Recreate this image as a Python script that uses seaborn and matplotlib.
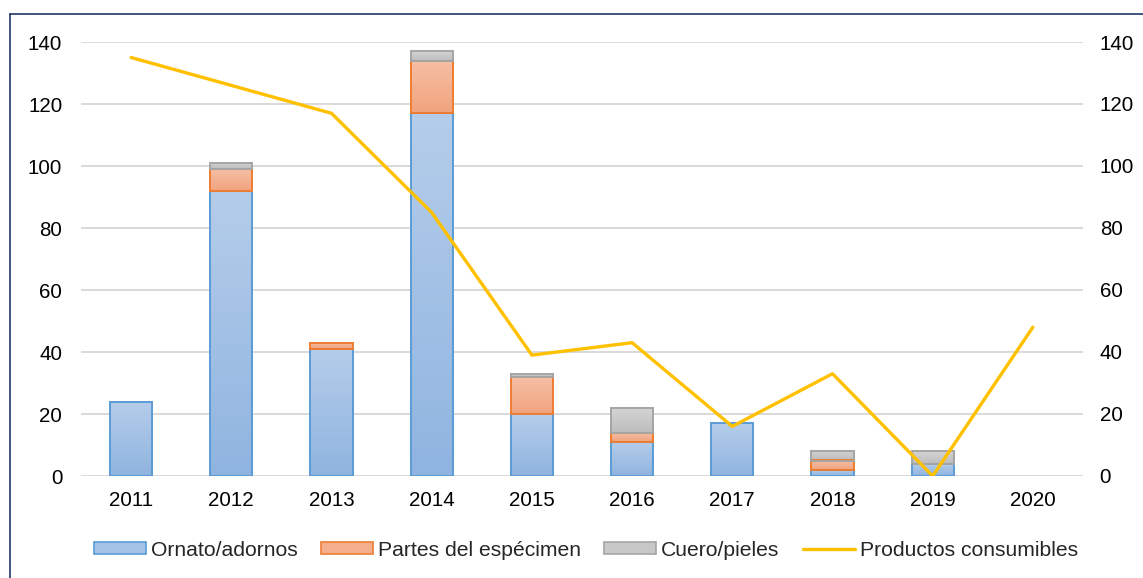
import numpy as np
import pandas as pd
import seaborn as sns
import matplotlib.pyplot as plt
from matplotlib.patches import Patch
from matplotlib.lines import Line2D
from matplotlib.colors import LinearSegmentedColormap

# Data
years = ["2011", "2012", "2013", "2014", "2015", "2016", "2017", "2018", "2019", "2020"]
ornato = [24, 92, 41, 117, 20, 11, 17, 2, 4, 0]
partes = [0, 7, 2, 17, 12, 3, 0, 3, 0, 0]
cuero = [0, 2, 0, 3, 1, 8, 0, 3, 4, 0]
consumibles = [135, 126, 117, 85, 39, 43, 16, 33, 0, 48]

labels = ["Ornato/adornos", "Partes del espécimen", "Cuero/pieles", "Productos consumibles"]

df = pd.DataFrame({"year": years, "ornato": ornato, "partes": partes,
                   "cuero": cuero, "consumibles": consumibles})
df["base_cuero"] = df["ornato"] + df["partes"]

sns.set_style("white")
plt.rcParams["font.family"] = ["Liberation Sans", "DejaVu Sans"]
FS = 14.8

fig = plt.figure(figsize=(11.43, 5.78), dpi=100)
ax = fig.add_axes([81 / 1143, 1 - 476 / 578, 1002 / 1143, 434 / 578])

# (edge, top of gradient, bottom of gradient)
styles = {
    "ornato": ("#5B9BD5", "#B5CDEA", "#8FB4E0"),
    "partes": ("#ED7D31", "#F6BFA5", "#F2A37E"),
    "cuero": ("#A5A5A5", "#D4D4D4", "#BDBDBD"),
}

sns.barplot(data=df, x="year", y="ornato", width=0.42, color=styles["ornato"][2],
            edgecolor=styles["ornato"][0], linewidth=1.4, ax=ax, zorder=2)
n1 = len(ax.patches)
sns.barplot(data=df, x="year", y="partes", bottom=df["ornato"], width=0.42,
            color=styles["partes"][2], edgecolor=styles["partes"][0], linewidth=1.4,
            ax=ax, zorder=2)
n2 = len(ax.patches)
sns.barplot(data=df, x="year", y="cuero", bottom=df["base_cuero"], width=0.42,
            color=styles["cuero"][2], edgecolor=styles["cuero"][0], linewidth=1.4,
            ax=ax, zorder=2)

# vertical gradient fill like the original
groups = [("ornato", ax.patches[:n1]), ("partes", ax.patches[n1:n2]),
          ("cuero", ax.patches[n2:])]
grad = np.linspace(0, 1, 256).reshape(-1, 1)
for key, bars in groups:
    edge, top, bot = styles[key]
    cmap = LinearSegmentedColormap.from_list(key, [top, bot])
    for bar in bars:
        if bar.get_height() <= 0:
            bar.set_visible(False)
            continue
        x0, y0 = bar.get_x(), bar.get_y()
        w, h = bar.get_width(), bar.get_height()
        ax.imshow(grad, extent=[x0, x0 + w, y0, y0 + h], aspect="auto",
                  cmap=cmap, origin="upper", zorder=1.9, interpolation="bicubic")
        bar.set_facecolor("none")

ax.set_xlim(-0.5, 9.5)
ax.set_ylim(0, 140)
ax.set_yticks(range(0, 141, 20))
ax.yaxis.grid(True, color="#D9D9D9", linewidth=1.4, zorder=0)
ax.set_axisbelow(True)
ax.set_xlabel("")
ax.set_ylabel("")
ax.tick_params(axis="both", length=0, labelsize=FS, colors="black")
ax.tick_params(axis="x", pad=11)
ax.tick_params(axis="y", pad=13.5)
for s in ax.spines.values():
    s.set_visible(False)

ax2 = ax.twinx()
sns.lineplot(x=list(range(len(years))), y=consumibles, color="#FFC000",
             linewidth=2.4, ax=ax2)
ax2.set_ylim(0, 140)
ax2.set_yticks(range(0, 141, 20))
ax2.tick_params(axis="y", length=0, labelsize=FS, colors="black", pad=12)
ax2.set_ylabel("")
for s in ax2.spines.values():
    s.set_visible(False)
ax2.set_xlim(-0.5, 9.5)

handles = [
    Patch(facecolor="#A4C2E6", edgecolor="#5B9BD5", linewidth=1.2),
    Patch(facecolor="#F4B08E", edgecolor="#ED7D31", linewidth=1.2),
    Patch(facecolor="#C8C8C8", edgecolor="#A5A5A5", linewidth=1.2),
    Line2D([0], [0], color="#FFC000", linewidth=2.4),
]
fig.legend(handles, labels, loc="center", bbox_to_anchor=(0.5127, 0.048), ncol=4,
           frameon=False, fontsize=15.2, handlelength=2.45, handleheight=0.52,
           handletextpad=0.25, columnspacing=1.1)

# dark blue frame, only its left and top edges fall inside the picture
fx = 9.5 / 1143
fy = 1 - 13.5 / 578
fig.add_artist(Line2D([fx, fx], [0, fy], color="#1F3864", linewidth=1.2))
fig.add_artist(Line2D([fx, 1], [fy, fy], color="#1F3864", linewidth=1.2))

fig.savefig("out.png", dpi=100)
